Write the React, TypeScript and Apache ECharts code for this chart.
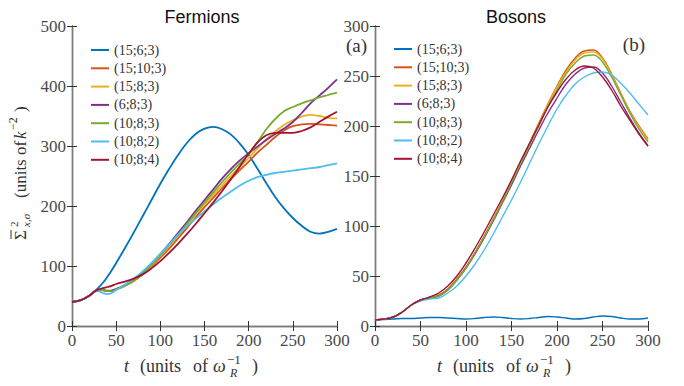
import React, { useEffect, useRef } from "react";
import * as echarts from "echarts";

// ---------- data ----------
const NAMES = ["(15;6;3)", "(15;10;3)", "(15;8;3)", "(6;8;3)", "(10;8;3)", "(10;8;2)", "(10;8;4)"];
const COLORS = ["#0072BD", "#D95319", "#EDB120", "#7E2F8E", "#77AC30", "#4DBEEE", "#A2142F"];

const X_TICKS = [0, 50, 100, 150, 200, 250, 300];

// Fermions (left panel)
const fermionT = [0, 10, 20, 25, 30, 35, 40, 45, 50, 60, 70, 80, 90, 100, 110, 120, 130, 140, 150, 160, 170, 180, 190, 200, 210, 220, 230, 240, 250, 260, 270, 280, 290, 300];
const f_15_6_3 = [40, 43, 51, 57, 64, 72, 82, 93, 105, 130, 156, 183, 210, 237, 262, 285, 305, 320, 329, 332, 328, 319, 304, 285, 262, 238, 215, 196, 180, 167, 157, 154, 157, 162];
const f_15_10_3 = [40, 43, 51, 57, 60, 60, 59, 59, 61, 67, 75, 86, 99, 114, 129, 146, 163, 181, 198, 214, 230, 245, 260, 274, 289, 302, 315, 326, 333, 336, 337, 336, 335, 334];
const f_15_8_3 = [40, 43, 51, 57, 60, 60, 58, 58, 61, 67, 76, 87, 101, 117, 133, 150, 168, 186, 203, 219, 235, 250, 265, 280, 296, 311, 324, 335, 343, 349, 352, 350, 347, 346];
const f_6_8_3 = [40, 43, 51, 57, 60, 60, 58, 59, 62, 68, 77, 89, 104, 120, 137, 155, 173, 192, 210, 228, 246, 262, 276, 288, 299, 310, 320, 329, 340, 355, 371, 384, 397, 411];
const f_10_8_3 = [40, 43, 51, 57, 60, 60, 58, 58, 61, 67, 76, 88, 102, 118, 135, 152, 170, 188, 206, 223, 240, 256, 271, 286, 306, 328, 345, 358, 365, 371, 376, 381, 385, 389];
const f_10_8_2 = [40, 43, 51, 57, 58, 55, 53, 55, 60, 69, 79, 91, 105, 120, 136, 152, 166, 179, 191, 203, 214, 224, 234, 242, 248, 252, 255, 257, 259, 261, 263, 265, 268, 271];
const f_10_8_4 = [40, 43, 51, 57, 61, 63, 65, 67, 70, 74, 79, 86, 96, 108, 122, 137, 153, 170, 188, 206, 225, 245, 266, 287, 306, 318, 322, 322, 322, 325, 331, 340, 349, 357];
const fermionSeries = [f_15_6_3, f_15_10_3, f_15_8_3, f_6_8_3, f_10_8_3, f_10_8_2, f_10_8_4];
const FERMION_Y_TICKS = [0, 100, 200, 300, 400, 500];

// Bosons (right panel)
const bosonT = [0, 10, 20, 30, 40, 50, 60, 70, 80, 90, 100, 110, 120, 130, 140, 150, 160, 170, 180, 190, 200, 210, 220, 230, 240, 250, 260, 270, 280, 290, 300];
const b_15_6_3 = [6, 6.5, 7, 7.5, 7.5, 8, 8.5, 8.5, 8, 7.5, 7, 7.5, 8.5, 9, 8.5, 7.5, 7, 7.5, 8.5, 9.5, 9, 8, 7, 7.5, 9, 10, 9.5, 8, 7, 7, 8];
const b_15_10_3 = [6, 7, 9, 14, 21, 26, 28, 31, 37, 47, 59, 74, 90, 107, 125, 144, 163, 183, 203, 222, 240, 256, 268, 275, 276, 268, 252, 233, 215, 200, 187];
const b_15_8_3 = [6, 7, 9, 14, 21, 26, 28, 30, 36, 46, 58, 73, 89, 106, 124, 143, 162, 182, 202, 221, 239, 254, 266, 273, 274, 267, 251, 232, 214, 199, 186];
const b_6_8_3 = [6, 7, 9, 14, 21, 26, 28, 30, 36, 46, 58, 72, 88, 105, 123, 141, 160, 178, 196, 213, 228, 242, 252, 258, 259, 253, 240, 224, 208, 193, 180];
const b_10_8_3 = [6, 7, 9, 14, 21, 26, 28, 30, 36, 46, 58, 73, 89, 106, 124, 143, 162, 181, 200, 219, 236, 252, 263, 270, 271, 264, 249, 231, 213, 197, 184];
const b_10_8_2 = [6, 7, 9, 14, 21, 25, 27, 28, 33, 40, 50, 62, 76, 92, 109, 126, 144, 163, 182, 200, 217, 231, 242, 249, 253, 254, 251, 243, 233, 222, 211];
const b_10_8_4 = [6, 7, 9, 14, 21, 26, 29, 33, 40, 50, 63, 78, 94, 111, 128, 146, 165, 183, 201, 219, 234, 247, 256, 260, 258, 249, 236, 220, 206, 192, 180];
const bosonSeries = [b_15_6_3, b_15_10_3, b_15_8_3, b_6_8_3, b_10_8_3, b_10_8_2, b_10_8_4];
const BOSON_Y_TICKS = [0, 50, 100, 150, 200, 250, 300];

// ---------- styles ----------
const SERIF = "'Liberation Serif', 'DejaVu Serif', serif";
const SANS = "'Liberation Sans', Arial, sans-serif";
const AXIS_COLOR = "#7a7a7a";
const LABEL_COLOR = "#4a4a4a";

function axisBase(show: boolean) {
  return {
    axisLine: { show: true, lineStyle: { color: AXIS_COLOR, width: 1.4 } },
    axisTick: { show: true, inside: true, length: 5, lineStyle: { color: "#333", width: 1 } },
    splitLine: { show: false },
    axisLabel: {
      show,
      fontFamily: SERIF,
      fontSize: 17,
      color: LABEL_COLOR,
      margin: 6,
    },
  };
}

function xAxes(gridIndex: number) {
  const common = { type: "value", min: X_TICKS[0], max: X_TICKS[X_TICKS.length - 1], interval: 50, gridIndex };
  return [
    { ...common, position: "bottom", ...axisBase(true) },
    { ...common, position: "top", ...axisBase(false) },
  ];
}
function yAxes(gridIndex: number, ticks: number[]) {
  const common = { type: "value", min: ticks[0], max: ticks[ticks.length - 1], interval: ticks[1] - ticks[0], gridIndex };
  return [
    { ...common, position: "left", ...axisBase(true) },
    { ...common, position: "right", ...axisBase(false) },
  ];
}

function txt(x: number, y: number, text: string, size: number, opts: any = {}) {
  return {
    type: "text",
    x,
    y,
    silent: true,
    style: {
      text,
      fontFamily: opts.family || SERIF,
      fontSize: size,
      fontStyle: opts.italic ? "italic" : "normal",
      fill: opts.fill || "#333",
      textAlign: opts.align || "left",
      textVerticalAlign: "middle",
    },
  };
}

function xLabel(x: number, y: number) {
  return {
    type: "group",
    x,
    y,
    children: [
      txt(0, 0, "t", 18, { italic: true }),
      txt(16, 0, "(units", 18),
      txt(69, 0, "of", 18),
      txt(89, 0, "ω", 18, { italic: true }),
      txt(103, -7, "−1", 13),
      txt(106, 7, "R", 12, { italic: true }),
      txt(128, 0, ")", 18),
    ],
  };
}

function yLabel(x: number, y: number) {
  return {
    type: "group",
    x,
    y,
    rotation: Math.PI / 2,
    children: [
      txt(0, 0, "Σ", 17),
      { type: "line", silent: true, shape: { x1: 1, y1: -9, x2: 10, y2: -9 }, style: { stroke: "#333", lineWidth: 1 } },
      txt(13, -6, "2", 11),
      txt(13, 6, "x,σ", 11, { italic: true }),
      txt(42, 0, "(units", 17),
      txt(85, 0, "of", 17),
      txt(101, 0, "k", 17, { italic: true }),
      txt(110, -7, "−2", 12),
      txt(128, 0, ")", 17),
    ],
  };
}

export default function App() {
  const ref = useRef<HTMLDivElement>(null);
  useEffect(() => {
    if (!ref.current) return;
    const chart = echarts.init(ref.current, null, { renderer: "svg" });

    const series: any[] = [];
    fermionSeries.forEach((vals, i) => {
      series.push({
        type: "line",
        name: NAMES[i],
        xAxisIndex: 0,
        yAxisIndex: 0,
        data: fermionT.map((t, k) => [t, vals[k]]),
        symbol: "none",
        smooth: 0.4,
        lineStyle: { color: COLORS[i], width: 1.8 },
        itemStyle: { color: COLORS[i] },
      });
    });
    bosonSeries.forEach((vals, i) => {
      series.push({
        type: "line",
        name: NAMES[i],
        xAxisIndex: 2,
        yAxisIndex: 2,
        data: bosonT.map((t, k) => [t, vals[k]]),
        symbol: "none",
        smooth: 0.4,
        lineStyle: { color: COLORS[i], width: 1.4 },
        itemStyle: { color: COLORS[i] },
      });
    });

    const legendCommon = {
      orient: "vertical",
      icon: "rect",
      itemWidth: 18,
      itemHeight: 2,
      itemGap: 2.3,
      data: NAMES,
      selectedMode: false,
      textStyle: { fontFamily: SERIF, fontSize: 14, color: "#333", lineHeight: 16 },
    };

    chart.setOption({
      animation: false,
      backgroundColor: "#fff",
      grid: [
        { left: 72, top: 26, width: 265, height: 300 },
        { left: 375, top: 26, width: 273, height: 300 },
      ],
      xAxis: [...xAxes(0), ...xAxes(1)],
      yAxis: [...yAxes(0, FERMION_Y_TICKS), ...yAxes(1, BOSON_Y_TICKS)],
      legend: [
        { ...legendCommon, left: 86, top: 37 },
        { ...legendCommon, left: 389, top: 36 },
      ],
      series,
      graphic: [
        txt(202, 17, "Fermions", 18, { family: SANS, fill: "#111", align: "center" }),
        txt(516, 17, "Bosons", 18, { family: SANS, fill: "#111", align: "center" }),
        txt(367, 45, "(a)", 19, { align: "right" }),
        txt(645, 44, "(b)", 19, { align: "right" }),
        xLabel(124, 366),
        xLabel(437, 366),
        yLabel(20, 240),
      ],
    });
    return () => chart.dispose();
  }, []);
  return <div ref={ref} style={{ position: "absolute", left: 0, top: 0, width: 684, height: 386 }} />;
}
